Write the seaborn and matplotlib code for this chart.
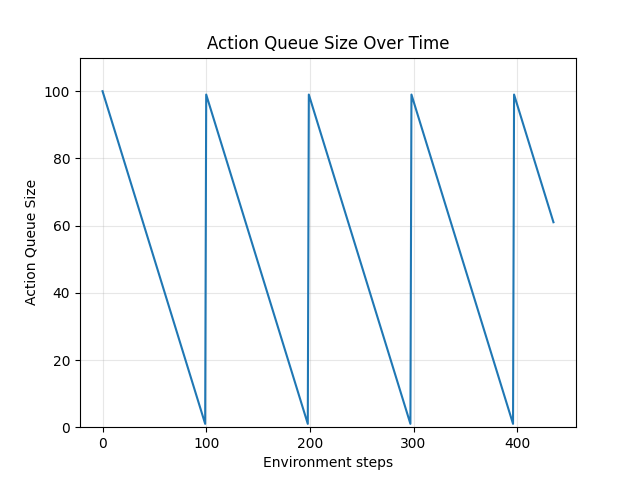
import matplotlib
matplotlib.use('Agg')
import matplotlib.pyplot as plt
import pandas as pd
import seaborn as sns

# Corner points of the queue-size trace
steps = [0, 99, 100, 198, 199, 297, 298, 396, 397, 435]
queue_size = [100, 1, 99, 1, 99, 1, 99, 1, 99, 61]

df = pd.DataFrame({'step': steps, 'size': queue_size})

fig, ax = plt.subplots(figsize=(6.4, 4.8), dpi=100)
sns.lineplot(data=df, x='step', y='size', ax=ax, color='#1f77b4', sort=False)

ax.set_title('Action Queue Size Over Time')
ax.set_xlabel('Environment steps')
ax.set_ylabel('Action Queue Size')
ax.set_ylim(0, 110)
ax.grid(True, alpha=0.3)

plt.savefig('out.png')
